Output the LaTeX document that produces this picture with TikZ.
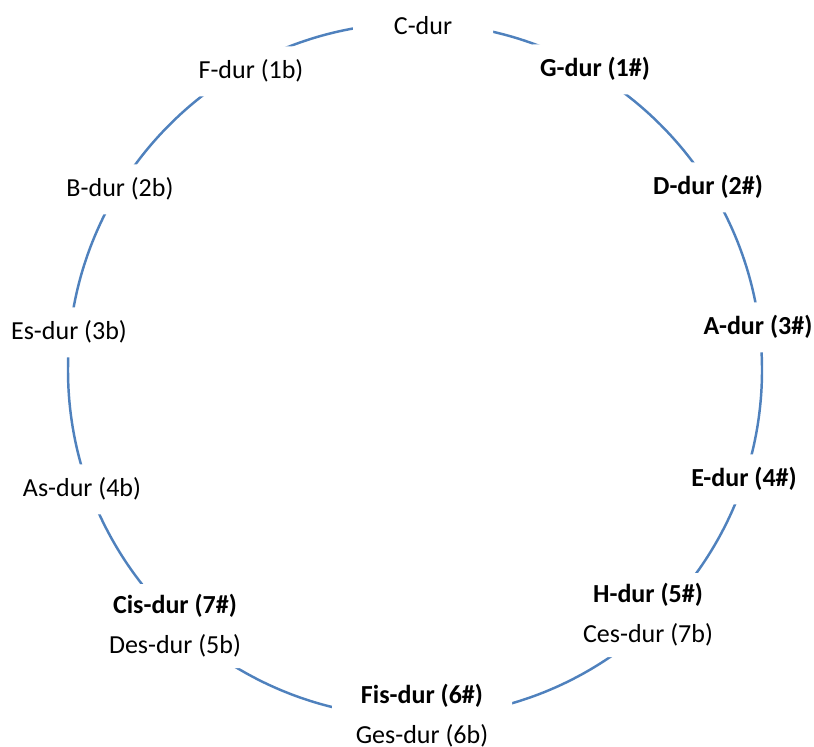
\documentclass[tikz,border=0pt]{standalone}
\usepackage{fontspec}
\setmainfont{Carlito}
\usepackage{tikz}
\usetikzlibrary{positioning}
\definecolor{kreisBlau}{RGB}{79,129,189}
\tikzset{
  tonart/.style={fill=white, rounded corners=5pt, inner xsep=0.3cm, minimum height=1cm,
    anchor=base, font=\fontsize{14.8}{22.8}\selectfont},
  kreuzTonart/.style={tonart, font=\fontsize{14.8}{22.8}\selectfont\bfseries},
  doppelTonart/.style={tonart, anchor=center, align=center, minimum width=3.6cm, minimum height=1.68cm}
}

\begin{document}
\begin{tikzpicture}
  \useasboundingbox (0,0) rectangle (16.28,14.92);
  % Quintenzirkel
  \draw[kreisBlau, line width=1.4pt] (8.30,7.52) circle (6.94);

  % C-dur oben
  \node[tonart, minimum width=2.8cm] (cdur) at (8.46,14.22) {C-dur};

  % Kreuz-Tonarten (rechts)
  \foreach \name/\x/\y/\lbl in {gdur/11.90/13.38/G-dur (1\#), ddur/14.16/11.02/D-dur (2\#),
      adur/15.16/8.22/A-dur (3\#), edur/14.88/5.18/E-dur (4\#)} {
    \node[kreuzTonart] (\name) at (\x,\y) {\lbl};
  }
  % b-Tonarten (links)
  \foreach \name/\x/\y/\lbl in {fdur/5.02/13.34/F-dur (1b), bdur/2.40/10.98/B-dur (2b),
      esdur/1.38/8.12/Es-dur (3b), asdur/1.64/4.98/As-dur (4b)} {
    \node[tonart] (\name) at (\x,\y) {\lbl};
  }

  % Enharmonische Verwechslungen
  \node[doppelTonart] (hdur) at (12.96,2.62) {\textbf{H-dur (5\#)}\\Ces-dur (7b)};
  \node[doppelTonart] (fisdur) at (8.44,0.60) {\textbf{Fis-dur (6\#)}\\Ges-dur (6b)};
  \node[doppelTonart] (cisdur) at (3.50,2.40) {\textbf{Cis-dur (7\#)}\\Des-dur (5b)};
\end{tikzpicture}
\end{document}
